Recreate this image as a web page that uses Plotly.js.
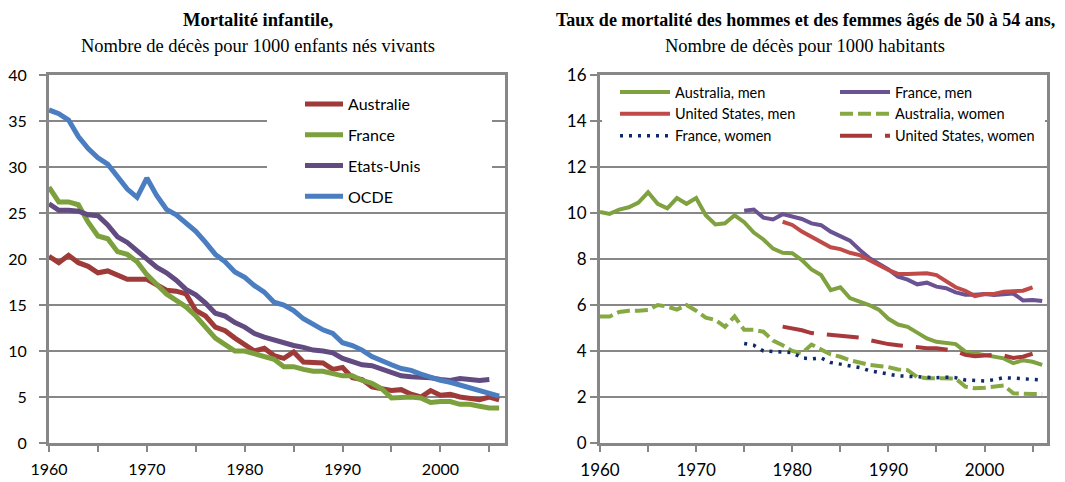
<!DOCTYPE html>
<html>
<head>
<meta charset="utf-8">
<script src="https://cdn.plot.ly/plotly-3.0.1.min.js"></script>
<style>html,body{margin:0;padding:0;background:#fff;}#chart{width:1065px;height:482px;}</style>
</head>
<body>
<div id="chart"></div>
<script>
// ---------- Data: infant mortality (deaths per 1000 live births) ----------
const yearsInfant = [1960,1961,1962,1963,1964,1965,1966,1967,1968,1969,1970,1971,1972,1973,1974,1975,1976,1977,1978,1979,1980,1981,1982,1983,1984,1985,1986,1987,1988,1989,1990,1991,1992,1993,1994,1995,1996,1997,1998,1999,2000,2001,2002,2003,2004,2005,2006];
const yearsInfantUS = [1960,1961,1962,1963,1964,1965,1966,1967,1968,1969,1970,1971,1972,1973,1974,1975,1976,1977,1978,1979,1980,1981,1982,1983,1984,1985,1986,1987,1988,1989,1990,1991,1992,1993,1994,1995,1996,1997,1998,1999,2000,2001,2002,2003,2004,2005];
const infantAustralie = [20.3,19.6,20.4,19.6,19.2,18.5,18.7,18.3,17.8,17.8,17.8,17.2,16.6,16.5,16.2,14.4,13.8,12.6,12.2,11.4,10.7,10.0,10.3,9.5,9.2,9.9,8.8,8.7,8.7,8.0,8.2,7.1,6.9,6.1,5.9,5.7,5.8,5.3,5.0,5.7,5.2,5.3,5.0,4.8,4.7,5.0,4.7];
const infantFrance = [27.8,26.2,26.2,25.9,24.0,22.5,22.2,20.8,20.5,19.7,18.3,17.2,16.2,15.5,14.8,13.8,12.5,11.4,10.7,10.0,10.0,9.7,9.5,9.1,8.3,8.3,8.0,7.8,7.8,7.5,7.3,7.3,6.8,6.5,5.9,4.9,5.0,5.0,4.9,4.4,4.5,4.5,4.2,4.2,4.0,3.8,3.8];
const infantEtatsUnis = [26.0,25.3,25.3,25.2,24.8,24.7,23.7,22.4,21.8,20.9,20.0,19.1,18.5,17.7,16.7,16.1,15.2,14.1,13.8,13.1,12.6,11.9,11.5,11.2,10.8,10.6,10.4,10.1,10.0,9.8,9.2,8.9,8.5,8.4,8.0,7.6,7.3,7.2,7.2,7.1,6.9,6.8,7.0,6.9,6.8,6.9];
const infantOCDE = [36.2,35.8,35.1,33.3,32.0,31.0,30.3,28.9,27.6,26.7,28.8,26.9,25.4,24.8,23.9,23.0,21.8,20.5,19.7,18.6,18.0,17.1,16.4,15.3,15.0,14.4,13.5,12.9,12.3,11.9,10.9,10.6,10.1,9.4,8.9,8.5,8.1,7.9,7.5,7.1,6.8,6.6,6.3,6.1,5.8,5.5,5.1];

// ---------- Data: mortality 50-54 (deaths per 1000 inhabitants) ----------
const yearsAus = [1960,1961,1962,1963,1964,1965,1966,1967,1968,1969,1970,1971,1972,1973,1974,1975,1976,1977,1978,1979,1980,1981,1982,1983,1984,1985,1986,1987,1988,1989,1990,1991,1992,1993,1994,1995,1996,1997,1998,1999,2000,2001,2002,2003,2004,2005,2006];
const yearsFra = [1975,1976,1977,1978,1979,1980,1981,1982,1983,1984,1985,1986,1987,1988,1989,1990,1991,1992,1993,1994,1995,1996,1997,1998,1999,2000,2001,2002,2003,2004,2005,2006];
const yearsUS = [1979,1980,1981,1982,1983,1984,1985,1986,1987,1988,1989,1990,1991,1992,1993,1994,1995,1996,1997,1998,1999,2000,2001,2002,2003,2004,2005];
const ausMen = [10.05,9.96,10.15,10.25,10.45,10.9,10.4,10.2,10.65,10.4,10.65,9.9,9.5,9.55,9.9,9.6,9.15,8.85,8.45,8.27,8.25,7.95,7.55,7.3,6.65,6.77,6.3,6.15,6.0,5.8,5.4,5.15,5.05,4.8,4.55,4.4,4.35,4.3,3.97,3.9,3.85,3.75,3.68,3.47,3.6,3.53,3.4];
const ausWomen = [5.5,5.5,5.7,5.75,5.75,5.78,6.0,5.93,5.8,6.0,5.75,5.45,5.35,5.05,5.5,4.92,4.92,4.84,4.45,4.25,4.0,3.9,4.28,4.05,3.85,3.75,3.6,3.5,3.4,3.35,3.3,3.2,3.17,2.87,2.82,2.82,2.82,2.8,2.45,2.38,2.4,2.47,2.5,2.16,2.13,2.13,2.13];
const fraMen = [10.1,10.15,9.8,9.72,9.95,9.84,9.74,9.55,9.47,9.19,9.0,8.8,8.4,8.05,7.8,7.55,7.23,7.1,6.9,6.97,6.8,6.73,6.55,6.45,6.45,6.48,6.43,6.45,6.5,6.2,6.22,6.17];
const fraWomen = [4.33,4.25,4.0,3.97,3.95,3.93,3.7,3.66,3.7,3.5,3.43,3.35,3.28,3.15,3.08,3.0,2.92,2.9,2.87,2.84,2.84,2.86,2.84,2.74,2.72,2.7,2.75,2.84,2.82,2.8,2.75,2.74];
const usMen = [9.62,9.48,9.19,8.97,8.75,8.51,8.43,8.27,8.17,7.93,7.74,7.52,7.35,7.35,7.38,7.38,7.3,7.05,6.77,6.62,6.39,6.48,6.48,6.58,6.62,6.62,6.77];
const usWomen = [5.06,5.0,4.9,4.78,4.74,4.72,4.66,4.62,4.58,4.48,4.38,4.3,4.25,4.2,4.13,4.12,4.12,4.08,4.0,3.83,3.77,3.8,3.83,3.8,3.7,3.75,3.88];

// ---------- Text ----------
const leftTitle = "Mortalité infantile,";
const leftSub = "Nombre de décès pour 1000 enfants nés vivants";
const rightTitle = "Taux de mortalité des hommes et des femmes âgés de 50 à 54 ans,";
const rightSub = "Nombre de décès pour 1000 habitants";

const W = 1065, H = 482;
const px = v => v / W;
const py = v => 1 - v / H;
const GRAY = '#878787';
const FONT = 'Lato, "Open Sans", sans-serif';
const SERIF = '"Liberation Serif", "Times New Roman", serif';

function L(name, x, y, color, width, dash, xa, ya, legend, group) {
  return {
    type: 'scatter', mode: 'lines', name: name, x: x, y: y,
    xaxis: xa, yaxis: ya, legend: legend, legendgroup: group,
    line: {color: color, width: width, dash: dash || 'solid'},
    hoverinfo: 'skip'
  };
}

const traces = [
  L('Australie', yearsInfant, infantAustralie, '#9E3B39', 5, null, 'x', 'y', 'legend', 'a'),
  L('France', yearsInfant, infantFrance, '#7BA03D', 5, null, 'x', 'y', 'legend', 'b'),
  L('Etats-Unis', yearsInfantUS, infantEtatsUnis, '#614B80', 5, null, 'x', 'y', 'legend', 'c'),
  L('OCDE', yearsInfant, infantOCDE, '#4A7EC1', 5, null, 'x', 'y', 'legend', 'd'),

  L('Australia, men', yearsAus, ausMen, '#7FA13F', 4, null, 'x2', 'y2', 'legend2', 'e'),
  L('France, men', yearsFra, fraMen, '#6A5293', 4, null, 'x2', 'y2', 'legend3', 'f'),
  L('United States, men', yearsUS, usMen, '#BF4A47', 4, null, 'x2', 'y2', 'legend2', 'g'),
  L('Australia, women', yearsAus, ausWomen, '#86A944', 4, '13px,5px', 'x2', 'y2', 'legend3', 'h'),
  L('France, women', yearsFra, fraWomen, '#0E2A6A', 3.5, '3px,6px', 'x2', 'y2', 'legend2', 'i'),
  L('United States, women', yearsUS, usWomen, '#A8393A', 4, '32px,13px', 'x2', 'y2', 'legend3', 'j')
];

function xAxis(dom, anchor, rng, fs) {
  return {
    domain: dom, anchor: anchor, range: rng, showgrid: false, zeroline: false,
    showline: true, linecolor: GRAY, linewidth: 3, mirror: true,
    ticks: 'outside', tick0: 1960, dtick: 10, ticklen: 6, tickwidth: 2, tickcolor: GRAY,
    minor: {dtick: 5, tick0: 1960, ticks: 'outside', ticklen: 6, tickwidth: 2, tickcolor: GRAY, showgrid: false},
    tickfont: {family: FONT, size: fs, color: '#000'}, ticklabelstandoff: 4,
    fixedrange: true
  };
}
function yAxis(dom, anchor, rng, dt, standoff, fs) {
  return {
    domain: dom, anchor: anchor, range: rng, dtick: dt, tick0: 0,
    showgrid: true, gridcolor: GRAY, gridwidth: 2, zeroline: false,
    showline: true, linecolor: GRAY, linewidth: 3, mirror: true,
    ticks: 'outside', ticklen: 7, tickwidth: 2, tickcolor: GRAY,
    tickfont: {family: FONT, size: fs, color: '#000'}, ticklabelstandoff: standoff,
    fixedrange: true
  };
}

const yDom = [1 - 443 / H, 1 - 75 / H];

const layout = {
  width: W, height: H,
  margin: {l: 0, r: 0, t: 0, b: 0},
  paper_bgcolor: '#fff', plot_bgcolor: '#fff',
  showlegend: true,
  xaxis: xAxis([px(49), px(505)], 'y', [1960, 2006.6], 16),
  yaxis: yAxis(yDom, 'x', [0, 40], 5, 9, 16),
  xaxis2: xAxis([px(600), px(1047)], 'y2', [1960, 2006.5], 17),
  yaxis2: yAxis(yDom, 'x2', [0, 16], 2, 0, 17),
  legend: {
    x: px(300), y: py(87), xanchor: 'left', yanchor: 'top',
    bgcolor: 'rgba(0,0,0,0)', borderwidth: 0, tracegroupgap: 7, itemwidth: 38,
    font: {family: FONT, size: 16, color: '#000'}, itemclick: false, itemdoubleclick: false
  },
  legend2: {
    x: px(615), y: py(76), xanchor: 'left', yanchor: 'top',
    bgcolor: 'rgba(0,0,0,0)', borderwidth: 0, tracegroupgap: 0, itemwidth: 50,
    font: {family: FONT, size: 14.5, color: '#000'}, itemclick: false, itemdoubleclick: false
  },
  legend3: {
    x: px(835), y: py(76), xanchor: 'left', yanchor: 'top',
    bgcolor: 'rgba(0,0,0,0)', borderwidth: 0, tracegroupgap: 0, itemwidth: 50,
    font: {family: FONT, size: 14.5, color: '#000'}, itemclick: false, itemdoubleclick: false
  },
  shapes: [
    {type: 'rect', xref: 'paper', yref: 'paper', layer: 'above',
     x0: px(267), x1: px(492), y0: py(210), y1: py(77),
     fillcolor: '#fff', line: {width: 0}},
    {type: 'rect', xref: 'paper', yref: 'paper', layer: 'above',
     x0: px(602), x1: px(1045), y0: py(164), y1: py(77),
     fillcolor: '#fff', line: {width: 0}}
  ],
  annotations: [
    {text: '<b>' + leftTitle + '</b>', xref: 'paper', yref: 'paper', x: px(258), y: py(20),
     xanchor: 'center', yanchor: 'middle', showarrow: false,
     font: {family: SERIF, size: 18.5, color: '#000'}},
    {text: leftSub, xref: 'paper', yref: 'paper', x: px(258), y: py(46),
     xanchor: 'center', yanchor: 'middle', showarrow: false,
     font: {family: SERIF, size: 18.5, color: '#000'}},
    {text: '<b>' + rightTitle + '</b>', xref: 'paper', yref: 'paper', x: px(805), y: py(20),
     xanchor: 'center', yanchor: 'middle', showarrow: false,
     font: {family: SERIF, size: 18, color: '#000'}},
    {text: rightSub, xref: 'paper', yref: 'paper', x: px(805), y: py(46),
     xanchor: 'center', yanchor: 'middle', showarrow: false,
     font: {family: SERIF, size: 18.5, color: '#000'}}
  ]
};

Plotly.newPlot('chart', traces, layout, {staticPlot: true, displayModeBar: false});
</script>
</body>
</html>
